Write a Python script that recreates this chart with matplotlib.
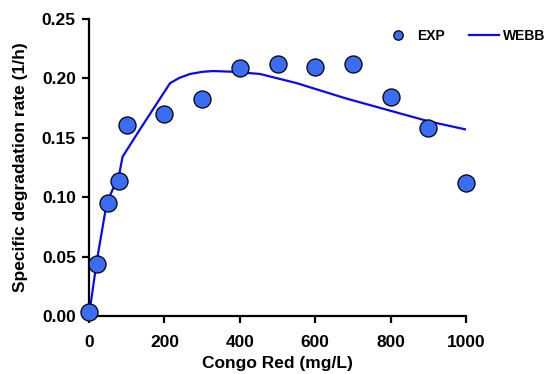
import matplotlib
matplotlib.use("Agg")
import matplotlib.pyplot as plt

plt.rcParams['font.family'] = ['Liberation Sans', 'DejaVu Sans']
plt.rcParams['font.weight'] = 'bold'

# experimental points
conc = [0, 20, 50, 80, 100, 200, 300, 400, 500, 600, 700, 800, 900, 1000]
rate = [0.003, 0.044, 0.095, 0.114, 0.161, 0.170, 0.183, 0.209, 0.212, 0.210, 0.212, 0.184, 0.158, 0.112]

# WEBB model curve
webb_x = [0, 20, 47, 80, 89, 135, 215, 240, 268, 300, 329, 382, 454, 551, 683, 904, 1000]
webb_y = [0.0, 0.045, 0.095, 0.119, 0.134, 0.157, 0.196, 0.2005, 0.2037, 0.2055, 0.2062, 0.2056, 0.2037, 0.196, 0.183, 0.1636, 0.157]

fig = plt.figure(figsize=(5.47, 3.74), dpi=100)
ax = fig.add_axes([89/547, 58/374, 377/547, 297/374])

line, = ax.plot(webb_x, webb_y, color='#0a0aee', lw=1.6, label='WEBB', zorder=2)
pts, = ax.plot(conc, rate, 'o', ms=12.3, mfc='#3a6cf4', mec='black', mew=0.9,
               label='EXP', clip_on=False, zorder=3)

ax.set_xlim(0, 1000)
ax.set_ylim(0, 0.25)
ax.set_xticks([0, 200, 400, 600, 800, 1000])
ax.set_yticks([0, 0.05, 0.10, 0.15, 0.20, 0.25])
ax.set_yticklabels(['0.00', '0.05', '0.10', '0.15', '0.20', '0.25'])

for s in ['top', 'right']:
    ax.spines[s].set_visible(False)
for s in ['left', 'bottom']:
    ax.spines[s].set_linewidth(1.6)
ax.tick_params(width=1.6, length=5, labelsize=12.5)
ax.tick_params(axis='x', pad=9)
ax.tick_params(axis='y', pad=4.5)
for lab in ax.get_xticklabels() + ax.get_yticklabels():
    lab.set_fontweight('bold')

ax.set_xlabel('Congo Red (mg/L)', fontsize=12.5, fontweight='bold', labelpad=4)
ax.set_ylabel('Specific degradation rate (1/h)', fontsize=12.5, fontweight='bold', labelpad=10)

leg = fig.legend([pts, line], ['EXP', 'WEBB'], loc='upper right', bbox_to_anchor=(1.008, 0.937),
                 borderaxespad=0, ncol=2, frameon=False, prop={'weight': 'bold', 'size': 10},
                 markerscale=0.55, handlelength=2.2, columnspacing=1.7, handletextpad=0.3)

fig.savefig('out.png', dpi=100)
